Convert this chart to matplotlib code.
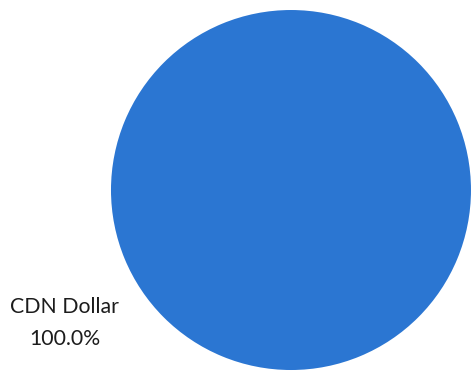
import matplotlib
matplotlib.use("Agg")
import matplotlib.pyplot as plt

# Currency allocation
currencies = ["CDN Dollar"]
shares = [100.0]
colors = ["#2b76d2"]

labels = [f"{name}\n{pct:.1f}%" for name, pct in zip(currencies, shares)]

fig = plt.figure(figsize=(4.72, 3.75), dpi=100)
ax = fig.add_axes([0.235, 0.0133, 0.763, 0.96])
ax.pie(
    shares,
    labels=labels,
    colors=colors,
    startangle=30.4,
    labeldistance=1.459,
    textprops=dict(ha="center", va="center", fontsize=15.3, family="Lato",
                   color="#1c1c1c", linespacing=1.75),
    wedgeprops=dict(linewidth=0),
)
ax.set_xlim(-1, 1)
ax.set_ylim(-1, 1)
ax.set_aspect("equal")
ax.axis("off")

fig.savefig("out.png", dpi=100)
